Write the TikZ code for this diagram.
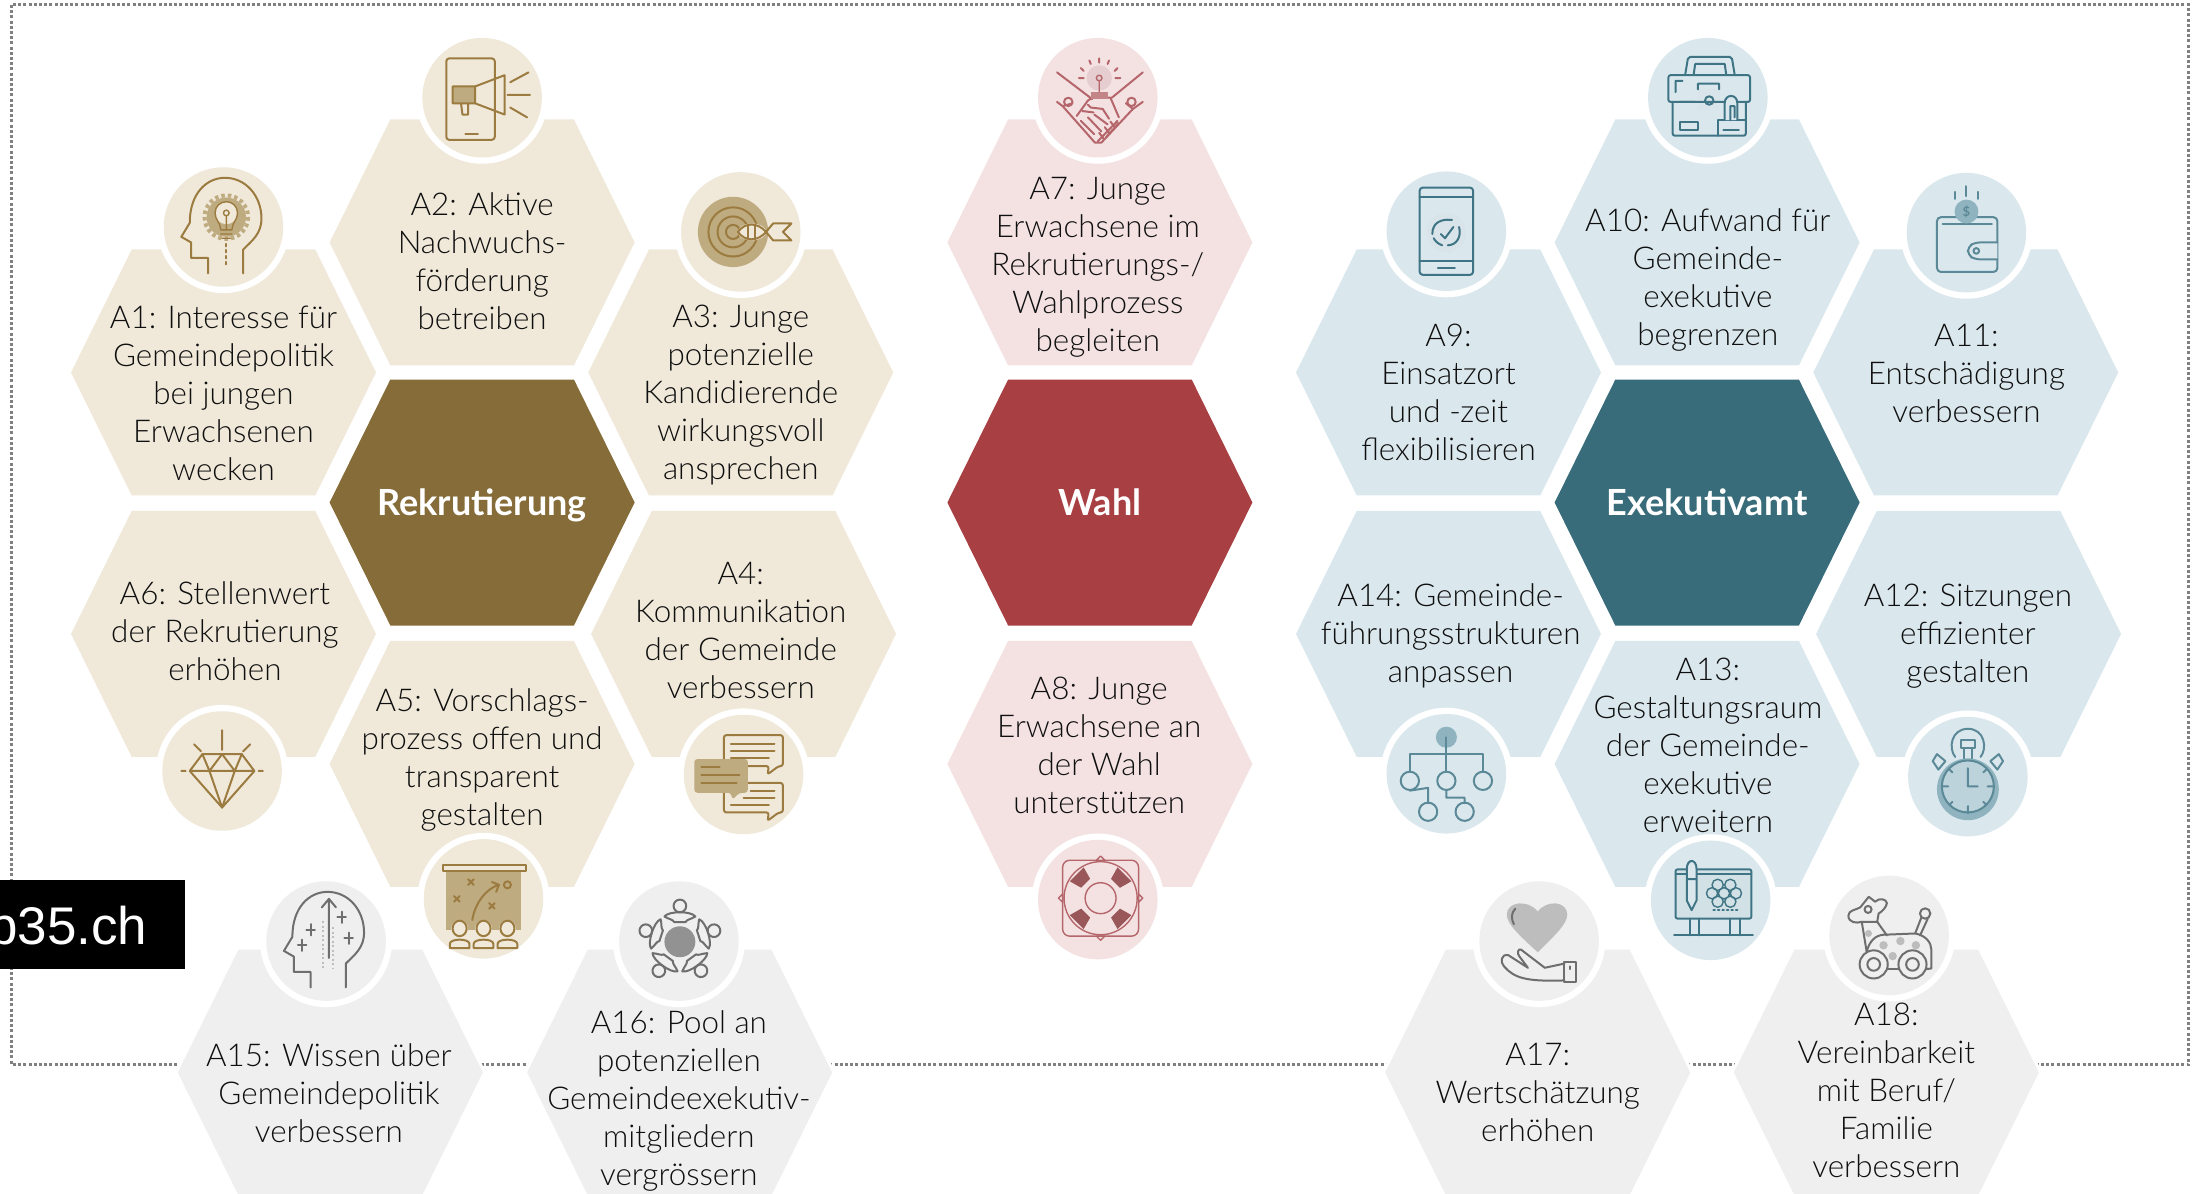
\documentclass[tikz,border=0pt]{standalone}
\usepackage{fontspec}
\setmainfont{Lato}[UprightFont=* Light,BoldFont=* Bold]
\newfontfamily\boxfont{Liberation Sans}
\definecolor{beigeb}{HTML}{F0E9DA}\definecolor{brownb}{HTML}{856C38}
\definecolor{pinkb}{HTML}{F4E2E3}\definecolor{redb}{HTML}{A83F42}
\definecolor{blueb}{HTML}{DAE8EE}\definecolor{tealb}{HTML}{386C7A}
\definecolor{grayb}{HTML}{EFEFEF}
\definecolor{goldi}{HTML}{9B7B3F}\definecolor{golds}{HTML}{BFAB80}
\definecolor{rosei}{HTML}{B5666A}\definecolor{roses}{HTML}{E6CDCF}
\definecolor{teali}{HTML}{3F7485}\definecolor{teals}{HTML}{8FB3BF}
\definecolor{grayi}{HTML}{6E6E6E}\definecolor{grays}{HTML}{BDBDBD}
\definecolor{dotc}{HTML}{808080}\definecolor{labc}{HTML}{0F0F0F}
\newcommand\lab{\fontsize{31.4}{38}\selectfont}
\tikzset{x=1.4056pt,y=-1.4056pt,
 ic/.style={draw=iccol,line width=2pt,line cap=round,line join=round},
 icfine/.style={draw=iccol,line width=1.4pt,line cap=round,line join=round},
 lab/.style={align=center,font=\lab,text=labc,inner sep=0pt,anchor=center},
 main/.style={align=center,font=\fontsize{36}{40}\selectfont\bfseries,text=white,inner sep=0pt},
 border/.style={draw=dotc,line width=3pt,dash pattern=on 3pt off 2.2pt}}
\newcommand\hexa[3]{\fill[#3] (#1-108.5,#2)--(#1-65.3,#2-87.5)--(#1+65.3,#2-87.5)--(#1+108.5,#2)--(#1+65.3,#2+87.5)--(#1-65.3,#2+87.5)--cycle;}
\newcommand\hexw[2]{\draw[white,line width=6pt,line join=round] (#1-108.5,#2)--(#1-65.3,#2-87.5)--(#1+65.3,#2-87.5)--(#1+108.5,#2)--(#1+65.3,#2+87.5)--(#1-65.3,#2+87.5)--cycle;}
\newcommand\disc[3]{\fill[white] (#1,#2) circle (47); \fill[#3] (#1,#2) circle (42.5);}
\newcommand\headline{\draw[ic] (-11,33)--(-11,22)--(-23,22)--(-23,11)--(-30,7)--(-24,-3) .. controls (-24,-24) and (-12,-35) .. (1,-35) .. controls (16,-35) and (27,-22) .. (27,-6) .. controls (27,5) and (20,10) .. (14,16)--(14,33);}
\begin{document}
\begin{tikzpicture}
\useasboundingbox (0,0) rectangle (1568,849.45);
\clip (0,0) rectangle (1568,849.45);
\draw[border] (8.5,3.5) rectangle (1557,757.5);
% hexagon halos over the border
\foreach \p/\q in {235/763,483.5/763,1094/763,1342/763}{\hexw{\p}{\q}}
\foreach \p/\q in {343/172.5,159/265,527/265,159/451,529/451,343/543.5}{\hexa{\p}{\q}{beigeb}}
\hexa{343}{357.5}{brownb}
\foreach \p/\q in {782.5/172.5,782.5/543.5}{\hexa{\p}{\q}{pinkb}}
\hexa{782.5}{357.5}{redb}
\foreach \p/\q in {1214.5/172.5,1030.5/265,1398.5/265,1030.5/451,1400.5/451,1214.5/543.5}{\hexa{\p}{\q}{blueb}}
\hexa{1214.5}{357.5}{tealb}
\foreach \p/\q in {235/763,483.5/763,1094/763,1342/763}{\hexa{\p}{\q}{grayb}}
% ---------- A2 megaphone
\disc{343}{69.5}{beigeb}
\begin{scope}[shift={(343,69.5)}]\colorlet{iccol}{goldi}\colorlet{icsoft}{golds}
\draw[ic,rounded corners=3pt] (-25.5,-28) rectangle (9,30);
\draw[ic] (-12,26)--(-3,26);
\fill[icsoft] (-21,-8) rectangle (-5,4);
\draw[ic] (-21,-8)--(-5,-8)--(16,-16)--(16,12)--(-5,4)--(-21,4)--cycle (-15,4)--(-14,12)--(-10,12)--(-10,5);
\draw[ic] (-5,-8)--(-5,4) (20,-11)--(33,-18) (18,-2)--(34,-2) (20,7)--(32,14);
\end{scope}
% ---------- A1 head with bulb
\disc{159}{161.5}{beigeb}
\begin{scope}[shift={(159,161.5)}]\colorlet{iccol}{goldi}\colorlet{icsoft}{golds}
\headline
\fill[icsoft] (2,-7) circle (14);
\draw[icsoft,line width=4pt,dash pattern=on 3.5pt off 3pt] (2,-7) circle (15.5);
\fill[beigeb] (2,-10) circle (8);
\draw[icfine] (-2,2) .. controls (-2,-3) and (-6,-5) .. (-6,-10) .. controls (-6,-15) and (-2,-18) .. (2,-18) .. controls (6,-18) and (10,-15) .. (10,-10) .. controls (10,-5) and (6,-3) .. (6,2)--cycle;
\draw[icfine] (2,2)--(2,-8) (2,-10) circle (2) (-2,5)--(6,5) (-1,8)--(5,8);
\draw[ic,dash pattern=on 2.5pt off 3.5pt] (2,12)--(2,27);
\end{scope}
% ---------- A3 target
\disc{527}{165}{beigeb}
\begin{scope}[shift={(527,165)}]\colorlet{iccol}{goldi}\colorlet{icsoft}{golds}
\fill[icsoft] (-5.5,0) circle (25);
\draw[ic] (-5.5,0) circle (17.5) (-5.5,0) circle (11) (-5.5,0) circle (5);
\fill[beigeb] (8,0) ellipse (10 and 6);
\draw[ic] (-2,0) .. controls (3,-7) and (12,-7) .. (18,0) .. controls (12,7) and (3,7) .. (-2,0);
\draw[ic] (5,-5)--(5,5) (10,-5)--(10,5);
\draw[ic] (18,0)--(23,-6)--(36,-6)--(30,0)--(36,6)--(23,6)--cycle;
\end{scope}
% ---------- A6 diamond
\disc{158}{548.5}{beigeb}
\begin{scope}[shift={(158,548.5)}]\colorlet{iccol}{goldi}
\draw[ic] (-14,-12)--(14,-12)--(23,0)--(0,26)--(-23,0)--cycle (-23,0)--(23,0);
\draw[ic] (-14,-12)--(-9,0)--(0,-12)--(9,0)--(14,-12) (-9,0)--(0,26)--(9,0);
\draw[ic] (0,-29)--(0,-15) (-20,-19)--(-15,-14) (20,-19)--(15,-14) (-29,0)--(-26,0) (26,0)--(29,0);
\end{scope}
% ---------- A4 chat
\disc{529}{551}{beigeb}
\begin{scope}[shift={(529,551)}]\colorlet{iccol}{goldi}\colorlet{icsoft}{golds}
\draw[ic,rounded corners=2.5pt] (-14,-28)--(28,-28)--(28,-6)--(25,-6)--(17,0)--(18,-6)--(-14,-6)--cycle;
\draw[ic] (-9,-22)--(22,-22) (-9,-17)--(22,-17) (-9,-12)--(18,-12);
\draw[ic,rounded corners=2.5pt] (-14,6)--(28,6)--(28,27)--(25,27)--(17,33)--(18,27)--(-14,27)--cycle;
\draw[ic] (5,12)--(22,12) (0,17)--(22,17) (-9,22)--(18,22);
\fill[icsoft,rounded corners=3pt] (-35,-11)--(3,-11)--(3,13)--(-3,13)--(-8,18)--(-9,13)--(-35,13)--cycle;
\draw[ic] (-30,-5)--(-17,-5) (-30,0)--(-3,0) (-30,6)--(-5,6);
\end{scope}
% ---------- A5 board and people
\disc{344}{639.5}{beigeb}
\begin{scope}[shift={(344,639.5)}]\colorlet{iccol}{goldi}\colorlet{icsoft}{golds}
\fill[icsoft] (-27,-20) rectangle (27,22);
\draw[ic,fill=beigeb] (-29,-24) rectangle (30,-20);
\draw[ic] (-11,-14)--(-7,-10) (-7,-14)--(-11,-10) (-21,-2)--(-17,2) (-17,-2)--(-21,2) (4,3)--(8,7) (8,3)--(4,7) (17,-10) circle (2.5);
\draw[ic] (-8,15) .. controls (-6,2) and (3,-8) .. (11,-10) (6,-12)--(11,-10)--(9,-5);
\foreach \u in {-17,0,17}{
 \fill[beigeb] (\u,21) ellipse (6 and 6);
 \draw[ic] (\u,21) ellipse (5 and 5.5);
 \draw[ic,fill=beigeb] (\u-7,35)--(\u-7,32) .. controls (\u-7,28) and (\u+7,28) .. (\u+7,32)--(\u+7,35)--cycle;}
\end{scope}
% ---------- A15 head with pluses
\disc{232}{669.5}{grayb}
\begin{scope}[shift={(232,669.5)}]\colorlet{iccol}{grayi}\colorlet{icsoft}{grays}
\headline
\draw[icsoft,line width=2pt,dash pattern=on 2pt off 2.5pt] (-2,-14)--(-2,20) (5,-10)--(5,20);
\draw[ic] (2,12)--(2,-30) (-3,-24)--(2,-30)--(7,-24);
\draw[ic] (-14,-8)--(-8,-8) (-11,-12)--(-11,-4) (8,-17)--(14,-17) (11,-21)--(11,-13) (13,-2)--(19,-2) (16,-6)--(16,2) (-20,3)--(-14,3) (-17,-1)--(-17,7);
\end{scope}
% ---------- A16 round table
\disc{483}{669.5}{grayb}
\begin{scope}[shift={(483,669.5)}]\colorlet{iccol}{grayi}\colorlet{icsoft}{grays}
\fill[iccol!75] (0.7,0.5) circle (11);
\foreach \a in {0,72,144,216,288}{
\begin{scope}[shift={(0.7,0.5)},rotate=\a]
\draw[ic] (0,-25.5) circle (4.5);
\draw[ic] (-11,-18) .. controls (-8,-22) and (8,-22) .. (11,-18) .. controls (8,-16) and (5,-16) .. (4,-14) -- (-4,-14) .. controls (-5,-16) and (-8,-16) .. (-11,-18);
\end{scope}}
\end{scope}
% ---------- A7 handshake
\disc{781}{69.5}{pinkb}
\begin{scope}[shift={(781,69.5)}]\colorlet{iccol}{rosei}\colorlet{icsoft}{roses}
\fill[icsoft] (1,-14) circle (9);
\draw[ic] (-29,-18)--(-4,1) (32,-18)--(10,0);
\draw[ic] (-29,3)--(-25,6)--(-2,32) (32,3)--(25,8)--(2.5,32)--(-2,32);
\draw[ic] (-21,3) circle (3) (24,3) circle (3) (-25,6)--(-18,4) (25,8)--(20,4);
\draw[ic] (-15,13)--(-7,2)--(-4,0)--(9,0)--(15,14);
\draw[ic] (-11,9.5)--(-3,10.5) (-7,5)--(-5,7)--(3.5,8)--(8,15);
\draw[ic] (-12,16.5)--(-2.5,26) (-7,14)--(2.5,24) (-2.5,12)--(7,19);
\draw[ic] (14,16.5)--(0,31) (6,28)--(15,18) (9,17)--(12,21) (5,21)--(8,25) (1,25)--(4,29);
\fill[iccol!80] (-5,-4) rectangle (7,1);
\draw[icfine] (1,-12)--(1,-4) (1,-14) circle (2);
\draw[ic] (1,-28)--(1,-25) (-6,-26.5)--(-5,-24) (8,-26.5)--(7,-24) (-12,-21)--(-10,-19) (14,-21)--(12,-19) (-13.5,-14)--(-10,-14) (12.5,-14)--(16,-14);
\end{scope}
% ---------- A8 lifebuoy
\disc{781}{640}{pinkb}
\begin{scope}[shift={(783,639)}]\colorlet{iccol}{rosei}\colorlet{icsoft}{roses}
\draw[icfine,rounded corners=7pt] (-27,-27) rectangle (27,27);
\draw[icfine] (0,0) circle (26) (0,0) circle (11);
\foreach \a in {45,135,225,315}{\fill[iccol!85!black,rotate=\a] (15,-4.5)--(24,-7)--(24,7)--(15,4.5)--cycle;}
\draw[icfine,fill=pinkb] (-3,-27)--(0,-30)--(3,-27)--cycle (-3,27)--(0,30)--(3,27)--cycle (-27,-3)--(-30,0)--(-27,3)--cycle (27,-3)--(30,0)--(27,3)--cycle;
\end{scope}
% ---------- A9 phone
\disc{1029}{164.5}{blueb}
\begin{scope}[shift={(1029,164.5)}]\colorlet{iccol}{teali}\colorlet{icsoft}{teals}
\fill[icsoft!35] (0,1) circle (14);
\draw[ic,rounded corners=3pt] (-19,-31) rectangle (19,31);
\draw[ic] (-19,-24)--(19,-24) (-19,21)--(19,21) (-6,26)--(6,26);
\draw[ic] (-10,2) .. controls (-10,-6) and (-4,-9) .. (4,-8) (9,-3) .. controls (11,4) and (7,10) .. (1,10) (-3,10) .. controls (-6,9) and (-8,7) .. (-9,5);
\draw[ic] (-4,2)--(-1,5)--(5,-3);
\end{scope}
% ---------- A10 briefcase
\disc{1215}{69.5}{blueb}
\begin{scope}[shift={(1215,69.5)}]\colorlet{iccol}{teali}\colorlet{icsoft}{teals}
\fill[icsoft!35] (-7,-6) rectangle (9,9);
\draw[ic,rounded corners=2pt] (-16,-17)--(-14,-29)--(17,-29)--(19,-17);
\draw[ic] (-10,-17)--(-9,-24)--(12,-24)--(13,-17);
\draw[ic,rounded corners=2pt] (-28,-16) rectangle (30,3);
\draw[ic,rounded corners=2pt] (-25,3)--(-25,27)--(27,27)--(27,3);
\draw[ic] (1,2) circle (3) (-20,3)--(-9,3) (-23,-4)--(-23,-12)--(-18,-12) (-7,-6)--(-7,-10)--(8,-10)--(8,-6);
\draw[ic] (-20,17) rectangle (-7,23) (7,27)--(7,16)--(27,16) (11,23)--(22,23);
\draw[ic,fill=blueb] (12,16)--(12,4) .. controls (12,-3) and (21,-3) .. (21,4)--(21,16) (16,16)--(16,6)--(19,6)--(19,14);
\end{scope}
% ---------- A11 wallet
\disc{1399}{165.5}{blueb}
\begin{scope}[shift={(1399,165.5)}]\colorlet{iccol}{teali!85!white}\colorlet{icsoft}{teals}
\draw[ic,rounded corners=4pt] (-21,-11) rectangle (22,28);
\draw[ic] (-17,-6)--(18,-6);
\draw[ic,fill=blueb,rounded corners=5pt] (22,7)--(6,7)--(1,10)--(1,16)--(6,19)--(22,19);
\draw[ic] (7,13) circle (2);
\fill[icsoft] (0,-15) circle (8.5);
\node[font=\bfseries\fontsize{13}{13}\selectfont,text=iccol,inner sep=0] (dollar) at (0,-15) {\$};
\draw[ic] (0,-33)--(0,-26) (-8,-29)--(-8,-24) (8,-29)--(8,-24);
\end{scope}
% ---------- A14 org chart
\disc{1029}{550.5}{blueb}
\begin{scope}[shift={(1029,550.5)}]\colorlet{iccol}{teali!85!white}\colorlet{icsoft}{teals}
\fill[icsoft] (0,-26) circle (7.5);
\draw[ic] (0,-26)--(0,-9) (-26,-2)--(-26,-14)--(26,-14)--(26,-2) (0,-14)--(0,-2);
\draw[ic] (-26,5) circle (6.5) (0,5) circle (6.5) (26,5) circle (6.5);
\draw[ic] (0,12)--(0,17)--(13,17)--(13,21) (-13,21)--(-13,10)--(-26,12);
\draw[ic] (-13,27) circle (6.5) (13,27) circle (6.5);
\end{scope}
% ---------- A12 stopwatch
\disc{1400}{552.5}{blueb}
\begin{scope}[shift={(1400,552.5)}]\colorlet{iccol}{teali!85!white}\colorlet{icsoft}{teals}
\fill[icsoft] (0,9) circle (22);
\fill[blueb!60!icsoft] (0,7) circle (18);
\draw[ic] (-9,-14) .. controls (-14,-20) and (-12,-34) .. (0,-34) .. controls (12,-34) and (14,-20) .. (9,-14);
\draw[ic] (-5,-26)--(5,-26)--(5,-20)--(-5,-20)--cycle (-3,-20)--(-3,-13) (3,-20)--(3,-13);
\draw[ic] (0,7) circle (18.5);
\draw[ic] (0,-6)--(0,7)--(7,7) (-18,7)--(-14,7) (18,7)--(14,7) (0,26)--(0,21) (-13,-5)--(-11,-3) (13,-5)--(11,-3) (-13,20)--(-11,18) (13,20)--(11,18);
\draw[ic] (-21,-5)--(-16,-11)--(-22,-16)--(-25,-11)--cycle (21,-5)--(16,-11)--(22,-16)--(25,-11)--cycle;
\end{scope}
% ---------- A13 board
\disc{1217}{640.5}{blueb}
\begin{scope}[shift={(1217,640.5)}]\colorlet{iccol}{teali}\colorlet{icsoft}{teals}
\fill[icsoft!40] (-25,-22) rectangle (29,13);
\draw[ic,rounded corners=2pt] (-25,-22) rectangle (29,13);
\draw[ic] (-25,-19)--(29,-19);
\draw[ic] (-15,13)--(-15,25) (-8,13)--(-8,25) (14,13)--(14,25) (21,13)--(21,25) (-26,25)--(30,25);
\draw[ic,fill=blueb] (-17,-22) .. controls (-17,-30) and (-10,-30) .. (-10,-22)--(-10,0)--(-13.5,7)--(-17,0)--cycle (-17,-15)--(-10,-15);
\draw[icfine] (5,-11) circle (4) (14,-11) circle (4) (9.5,-5) circle (4) (1,-5) circle (4) (18,-5) circle (4) (5,1) circle (4) (14,1) circle (4);
\draw[ic,dash pattern=on 1.5pt off 3pt] (2,7)--(19,7);
\end{scope}
% ---------- A17 heart and hand
\disc{1095}{669.5}{grayb}
\begin{scope}[shift={(1095,669.5)}]\colorlet{iccol}{grayi}\colorlet{icsoft}{grays}
\fill[icsoft] (-1,8) .. controls (-14,-4) and (-23,-12) .. (-23,-19) .. controls (-23,-28) and (-8,-30) .. (-1,-21) .. controls (6,-30) and (20,-28) .. (20,-19) .. controls (20,-12) and (11,-4) .. (-1,8);
\draw[ic] (-18,-12) .. controls (-20,-16) and (-20,-20) .. (-17,-23);
\draw[ic] (18,16)--(4,19)--(-13,6) .. controls (-15,5) and (-16,9) .. (-14,11)--(-8,19) (-8,19)--(-22,10) .. controls (-27,9) and (-28,15) .. (-25,18) .. controls (-18,26) and (-10,29) .. (18,28);
\draw[ic] (18,15) rectangle (26,29) (22,18)--(22,20);
\end{scope}
% ---------- A18 toy dog
\disc{1344}{665.5}{grayb}
\begin{scope}[shift={(1344,665.5)}]\colorlet{iccol}{grayi}\colorlet{icsoft}{grays}
\fill[icsoft] (-4,7) circle (3) (8,4) circle (3) (19,7) circle (3) (2.5,14.7) circle (3) (-14.7,-1.4) circle (2.5);
\draw[ic] (-19.5,-9.7) .. controls (-23,-8.5) and (-29,-9) .. (-29,-14) .. controls (-29,-18) and (-24,-18) .. (-20.5,-20) -- (-14.5,-27.5) -- (-10,-24) .. controls (-7,-27) and (-2,-26) .. (-1.6,-23) .. controls (-2,-20) and (-5,-17) .. (-7.5,-15.6) -- (-8.5,-9.7) -- cycle;
\draw[ic] (-15,-18.5) circle (2.5);
\draw[ic] (-19.5,-9.7)--(-16,11.6) (-8.5,-9.7)--(-1.6,0);
\draw[ic] (-16,11.6) .. controls (-14,4) and (-10,0) .. (-4,-0.5)--(18.5,-1.4) .. controls (26,0) and (30,5) .. (30,10)--(30,23.5)--(26,24);
\draw[ic] (18.5,-1.4)--(23,-13) (22,0)--(27.5,-12);
\draw[ic] (25.6,-15.6) circle (3.7);
\draw[ic] (-1,24)--(7,24);
\draw[ic,fill=grayb] (-11,20.6) circle (10) (16.6,20.6) circle (10);
\draw[ic] (-11,20.6) circle (4.5) (16.6,20.6) circle (4.5);
\end{scope}
% ---------- labels
\node[main] (m1) at (343,359.5) {Rekrutierung};
\node[main] (m2) at (782.5,357.5) {Wahl};
\node[main] (m3) at (1214.5,357.5) {Exekutivamt};
\node[lab] (t1) at (159,280) {A1: Interesse für\\Gemeindepolitik\\bei jungen\\Erwachsenen\\wecken};
\node[lab] (t2) at (343,185.5) {A2: Aktive\\Nachwuchs-\\förderung\\betreiben};
\node[lab] (t3) at (527,281) {A3: Junge\\potenzielle\\Kandidierende\\wirkungsvoll\\ansprechen};
\node[lab] (t4) at (527,448.5) {A4:\\Kommunikation\\der Gemeinde\\verbessern};
\node[lab] (t5) at (343,541) {A5: Vorschlags-\\prozess offen und\\transparent\\gestalten};
\node[lab] (t6) at (160,449) {A6: Stellenwert\\der Rekrutierung\\erhöhen};
\node[lab] (t7) at (781,190) {A7: Junge\\Erwachsene im\\Rekrutierungs-/\\Wahlprozess\\begleiten};
\node[lab] (t8) at (782,530.5) {A8: Junge\\Erwachsene an\\der Wahl\\unterstützen};
\node[lab] (t9) at (1030.5,279.5) {A9:\\Einsatzort\\und -zeit\\flexibilisieren};
\node[lab] (t10) at (1215,199) {A10: Aufwand für\\Gemeinde-\\exekutive\\begrenzen};
\node[lab] (t11) at (1399,266) {A11:\\Entschädigung\\verbessern};
\node[lab] (t12) at (1400,452.5) {A12: Sitzungen\\effizienter\\gestalten};
\node[lab] (t13) at (1215,530) {A13:\\Gestaltungsraum\\der Gemeinde-\\exekutive\\erweitern};
\node[lab] (t14) at (1032,452.5) {A14: Gemeinde-\\führungsstrukturen\\anpassen};
\node[lab] (t15) at (234,778) {A15: Wissen über\\Gemeindepolitik\\verbessern};
\node[lab] (t16) at (483,783) {A16: Pool an\\potenziellen\\Gemeindeexekutiv-\\mitgliedern\\vergrössern};
\node[lab] (t17) at (1094,777) {A17:\\Wertschätzung\\erhöhen};
\node[lab] (t18) at (1342,776) {A18:\\Vereinbarkeit\\mit Beruf/\\Familie\\verbessern};
% ---------- black box
\fill[black] (-2,626) rectangle (131.5,689.5);
\node[font=\boxfont\fontsize{53}{53}\selectfont,text=white,inner sep=0pt,anchor=base east] (bx) at (105,672) {b35.ch};
\end{tikzpicture}
\end{document}
